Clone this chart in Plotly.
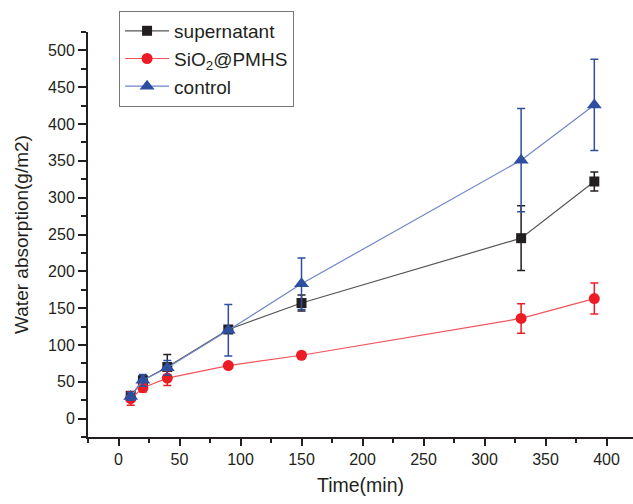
import plotly.graph_objects as go

time_min = [10, 20, 40, 90, 150, 330, 390]

supernatant = [31, 52, 70, 121, 157, 245, 322]
supernatant_err = [5, 6, 17, 4, 11, 44, 13]

sio2_pmhs = [27, 42, 55, 72, 86, 136, 163]
sio2_pmhs_err = [9, 6, 10, 3, 3, 20, 21]

control = [30, 52, 69, 120, 183, 351, 426]
control_err = [5, 8, 10, 35, 35, 70, 62]

x_ticks = [0, 50, 100, 150, 200, 250, 300, 350, 400]
y_ticks = [0, 50, 100, 150, 200, 250, 300, 350, 400, 450, 500]

FONT = "Liberation Sans, Arial, sans-serif"
INK = "#231f20"

fig = go.Figure()

series = [
    ("supernatant", supernatant, supernatant_err, "#231f20", "#555555", "square", 10),
    ("SiO<sub>2</sub>@PMHS", sio2_pmhs, sio2_pmhs_err, "#ed1c24", "#f0545a", "circle", 11),
    ("control", control, control_err, "#2e4fa0", "#6f86c8", "triangle-up", 13),
]

for name, vals, errs, mcol, lcol, sym, size in series:
    fig.add_trace(go.Scatter(
        x=time_min, y=vals, name=name, mode="lines+markers",
        line=dict(color=lcol, width=1.2),
        marker=dict(symbol=sym, size=size, color=mcol, line=dict(width=0)),
        error_y=dict(type="data", array=errs, visible=True, color=mcol,
                     thickness=1.5, width=4),
    ))

fig.update_layout(
    width=633, height=504,
    margin=dict(l=88, r=0, t=32, b=67, autoexpand=False),
    paper_bgcolor="white", plot_bgcolor="white",
    font=dict(family=FONT, size=16, color=INK),
    showlegend=True,
    legend=dict(
        x=0.057, y=1.052, xanchor="left", yanchor="top",
        bordercolor="#777777", borderwidth=1, bgcolor="white",
        font=dict(family=FONT, size=19, color=INK),
        tracegroupgap=0, itemwidth=44,
    ),
)

fig.update_xaxes(
    range=[-25, 421.7], tickvals=x_ticks, ticktext=[str(v) for v in x_ticks],
    showgrid=False, zeroline=False, showline=True, linecolor=INK, linewidth=2,
    ticks="outside", ticklen=7, tickwidth=2, tickcolor=INK, automargin=False,
    minor=dict(ticks="outside", ticklen=4, tickwidth=2, tickcolor=INK, dtick=25, tick0=-25),
    tickfont=dict(family=FONT, size=16, color=INK),
    title=dict(text="Time(min)", font=dict(family=FONT, size=19.5, color=INK), standoff=11),
)
fig.update_yaxes(
    range=[-25, 525], tickvals=y_ticks, ticktext=[str(v) for v in y_ticks],
    showgrid=False, zeroline=False, showline=True, linecolor=INK, linewidth=2,
    ticks="outside", ticklen=8, tickwidth=2, tickcolor=INK, automargin=False,
    minor=dict(ticks="outside", ticklen=5, tickwidth=2, tickcolor=INK, dtick=25, tick0=-25),
    tickfont=dict(family=FONT, size=16, color=INK),
    title=dict(text="Water absorption(g/m2)", font=dict(family=FONT, size=19, color=INK), standoff=14),
)

fig.write_html("out.html", config={"displayModeBar": False},
               post_script="document.body.style.margin='0';")
